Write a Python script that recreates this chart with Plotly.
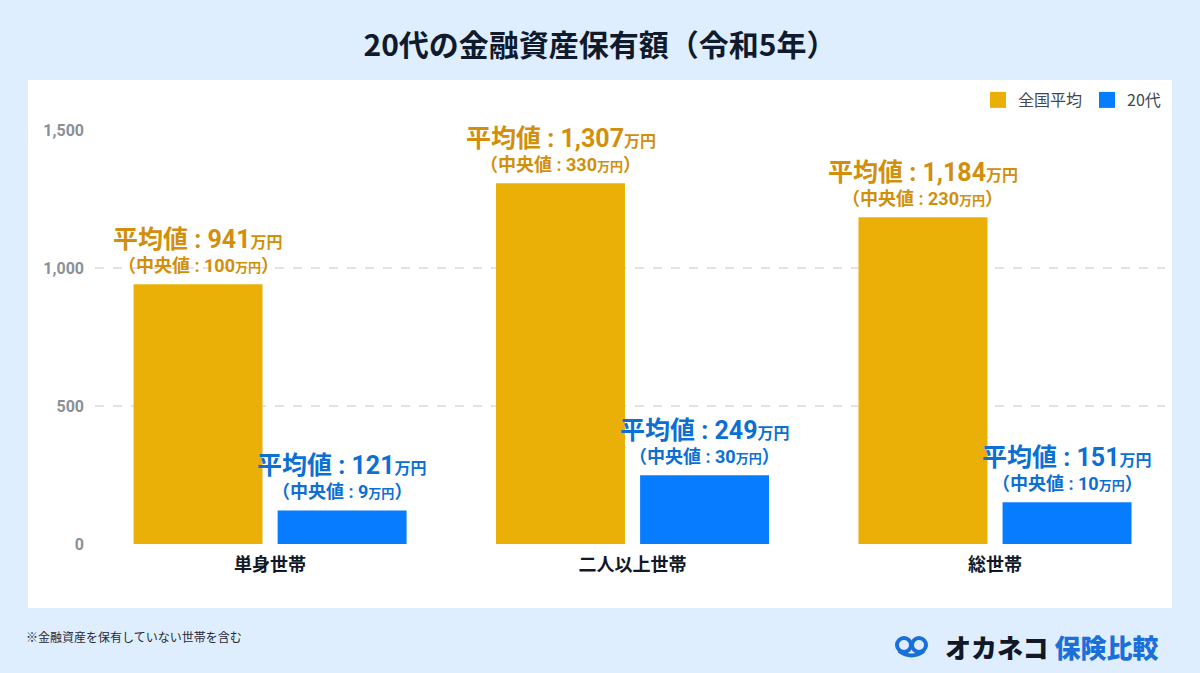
import plotly.graph_objects as go

categories = ["単身世帯", "二人以上世帯", "総世帯"]
series_names = ["全国平均", "20代"]
national_avg = [941, 1307, 1184]
national_median = [100, 330, 230]
twenties_avg = [121, 249, 151]
twenties_median = [9, 30, 10]
y_ticks = [0, 500, 1000, 1500]

BAR_COLORS = ["#ebb007", "#087cff"]
LABEL_COLORS = ["#d18f0c", "#0b6fd4"]
FONT = "Noto Sans CJK JP"
NUM_FONT = "Roboto, Noto Sans CJK JP"

W, H = 1200, 673
L, R, T, B = 95, 1165, 130, 544  # plot area in px
BARGAP = 0.205
BARGROUPGAP = 0.105


def px_x(x):
    return (x - L) / (R - L)


def px_y(y):
    return (B - y) / (B - T)


fig = go.Figure()
avgs = [national_avg, twenties_avg]
meds = [national_median, twenties_median]
for i, name in enumerate(series_names):
    fig.add_trace(go.Bar(
        x=categories, y=avgs[i], name=name, marker_color=BAR_COLORS[i],
        marker_line_width=0, showlegend=False,
    ))
    fig.add_trace(go.Scatter(
        x=[None], y=[None], mode="markers", name=name,
        marker=dict(symbol="square", size=18, color=BAR_COLORS[i]),
        showlegend=True,
    ))

offset = (1 - BARGAP) / 4
annotations = []
for s in range(2):
    for c in range(len(categories)):
        xpos = c + (-offset if s == 0 else offset)
        v = avgs[s][c]
        m = meds[s][c]
        col = LABEL_COLORS[s]
        annotations.append(dict(
            x=xpos, y=v, xref="x", yref="y", showarrow=False,
            yanchor="middle", yshift=19,
            text=f"（中央値 : {m:,}<span style='font-size:13px'>万円</span>）",
            font=dict(family=NUM_FONT, size=18, color=col, weight="bold"),
        ))
        annotations.append(dict(
            x=xpos, y=v, xref="x", yref="y", showarrow=False,
            yanchor="middle", yshift=45,
            text=f"平均値 : {v:,}<span style='font-size:16px'>万円</span>",
            font=dict(family=NUM_FONT, size=25, color=col, weight="bold"),
        ))

# footnote
annotations.append(dict(
    x=px_x(24), y=px_y(636), xref="paper", yref="paper", showarrow=False,
    xanchor="left", yanchor="middle", text="※金融資産を保有していない世帯を含む",
    font=dict(family=FONT, size=12, color="#1f2937"),
))
# logo text
annotations.append(dict(
    x=px_x(1160), y=px_y(646), xref="paper", yref="paper", showarrow=False,
    xanchor="right", yanchor="middle",
    text="<span style='color:#111827'>オカネコ</span><span style='color:#1a6fd8'> 保険比較</span>",
    font=dict(family=FONT, size=26, weight=900),
))

shapes = [
    dict(type="rect", xref="paper", yref="paper", layer="below",
         x0=px_x(28), x1=px_x(1172), y0=px_y(608), y1=px_y(80),
         fillcolor="white", line_width=0),
    # logo icon: two rings
    dict(type="circle", xref="paper", yref="paper",
         x0=px_x(897), x1=px_x(911), y0=px_y(652), y1=px_y(638),
         fillcolor="rgba(0,0,0,0)", line=dict(color="#1a6fd8", width=4)),
    dict(type="circle", xref="paper", yref="paper",
         x0=px_x(912), x1=px_x(926), y0=px_y(652), y1=px_y(638),
         fillcolor="rgba(0,0,0,0)", line=dict(color="#1a6fd8", width=4)),
    dict(type="path", xref="paper", yref="paper",
         path=f"M {px_x(899)},{px_y(651)} Q {px_x(911.5)},{px_y(660)} {px_x(924)},{px_y(651)}",
         line=dict(color="#1a6fd8", width=4)),
]

fig.update_layout(
    width=W, height=H,
    paper_bgcolor="#dfeefe", plot_bgcolor="rgba(0,0,0,0)",
    margin=dict(l=L, r=W - R, t=T, b=H - B, pad=0),
    barmode="group", bargap=BARGAP, bargroupgap=BARGROUPGAP,
    title=dict(text="<b>20代の金融資産保有額（令和5年）</b>", x=0.5, xanchor="center",
               y=1 - 45 / H, yanchor="middle",
               font=dict(family=FONT, size=30, color="#0f1b2d")),
    font=dict(family=FONT),
    legend=dict(orientation="h", x=px_x(1166), xanchor="right", y=px_y(100), yanchor="middle",
                font=dict(family=FONT, size=16, color="#3f4753"), bgcolor="rgba(0,0,0,0)",
                itemwidth=30),
    annotations=annotations,
    shapes=shapes,
    xaxis=dict(
        type="category", range=[-0.483, 2.469], showgrid=False, zeroline=False,
        showline=False, ticks="",
        tickfont=dict(family=FONT, size=18, color="#111827", weight="bold"),
        ticklabelstandoff=8,
    ),
    yaxis=dict(
        range=[0, 1500], tickvals=y_ticks, tickformat=",",
        showgrid=True, gridcolor="#e3e3e3", griddash="dash", gridwidth=1.5,
        zeroline=False, showline=False, ticks="",
        tickfont=dict(family=NUM_FONT, size=16, color="#8a9099", weight="bold"),
        ticklabelstandoff=10,
    ),
)

fig.write_html("out.html", post_script="document.body.style.margin='0';",
               config={"displayModeBar": False})
